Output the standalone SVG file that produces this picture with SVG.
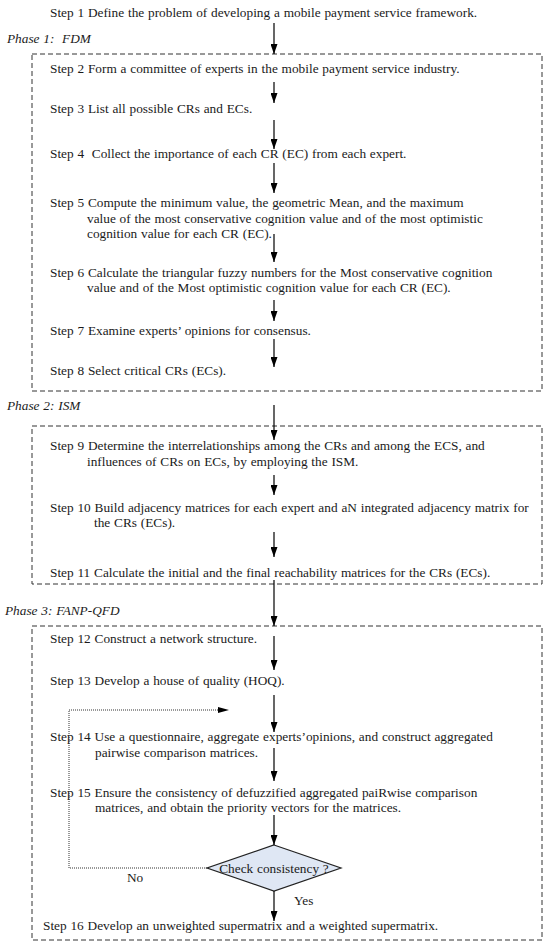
<svg xmlns="http://www.w3.org/2000/svg" width="550" height="946" viewBox="0 0 550 946">
<style>
text{font-family:"Liberation Serif","Times New Roman",serif;font-size:13.3px;fill:#1a1a1a;word-spacing:0.5px}
.ph{font-style:italic}
.box{fill:none;stroke:#333;stroke-width:1;stroke-dasharray:5,3}
.ln{stroke:#000;stroke-width:1.2;fill:none}
.dot{stroke:#333;stroke-width:1;fill:none;stroke-dasharray:1,1}
.dia{fill:#dfe7f4;stroke:#222;stroke-width:1.2}
</style>
<defs>
<marker id="ah" viewBox="0 0 10 7" refX="10" refY="3.5" markerWidth="10" markerHeight="7" markerUnits="userSpaceOnUse" orient="auto"><path d="M0,0 L10,3.5 L0,7 z" fill="#000"/></marker>
</defs>
<rect width="550" height="946" fill="#fff"/>
<g id="phases">
<text class="ph" x="7" y="43" xml:space="preserve">Phase 1:  FDM</text>
<text class="ph" x="7" y="410">Phase 2: ISM</text>
<text class="ph" x="5" y="615">Phase 3: FANP-QFD</text>
</g>
<g id="frames">
<rect id="phase1" class="box" x="32" y="54" width="510" height="337"/>
<rect id="phase2" class="box" x="32" y="426" width="510" height="158"/>
<rect id="phase3" class="box" x="32" y="626" width="510" height="314"/>
</g>
<g id="step1"><text x="50" y="17">Step 1 Define the problem of developing a mobile payment service framework.</text></g>
<g id="step2"><text x="50" y="73">Step 2 Form a committee of experts in the mobile payment service industry.</text></g>
<g id="step3"><text x="50" y="113">Step 3 List all possible CRs and ECs.</text></g>
<g id="step4"><text x="50" y="158" xml:space="preserve">Step 4  Collect the importance of each CR (EC) from each expert.</text></g>
<g id="step5"><text x="50" y="207">Step 5 Compute the minimum value, the geometric Mean, and the maximum</text><text x="87" y="223">value of the most conservative cognition value and of the most optimistic</text><text x="87" y="238">cognition value for each CR (EC).</text></g>
<g id="step6"><text x="50" y="277">Step 6 Calculate the triangular fuzzy numbers for the Most conservative cognition</text><text x="87" y="292">value and of the Most optimistic cognition value for each CR (EC).</text></g>
<g id="step7"><text x="50" y="335">Step 7 Examine experts’ opinions for consensus.</text></g>
<g id="step8"><text x="50" y="375">Step 8 Select critical CRs (ECs).</text></g>
<g id="step9"><text x="50" y="450">Step 9 Determine the interrelationships among the CRs and among the ECS, and</text><text x="87" y="466">influences of CRs on ECs, by employing the ISM.</text></g>
<g id="step10"><text x="50" y="512">Step 10 Build adjacency matrices for each expert and aN integrated adjacency matrix for</text><text x="94" y="527">the CRs (ECs).</text></g>
<g id="step11"><text x="50" y="577">Step 11 Calculate the initial and the final reachability matrices for the CRs (ECs).</text></g>
<g id="step12"><text x="50" y="643">Step 12 Construct a network structure.</text></g>
<g id="step13"><text x="50" y="685">Step 13 Develop a house of quality (HOQ).</text></g>
<g id="step14"><text x="50" y="741">Step 14 Use a questionnaire, aggregate experts’opinions, and construct aggregated</text><text x="95" y="757">pairwise comparison matrices.</text></g>
<g id="step15"><text x="50" y="797">Step 15 Ensure the consistency of defuzzified aggregated paiRwise comparison</text><text x="95" y="812">matrices, and obtain the priority vectors for the matrices.</text></g>
<g id="check"><polygon class="dia" points="274,845 341,868 274,891 207,868"/><text x="274" y="873" text-anchor="middle">Check consistency ?</text></g>
<g id="step16"><text x="43" y="930">Step 16 Develop an unweighted supermatrix and a weighted supermatrix.</text></g>
<g id="connectors">
<line class="ln" x1="274" y1="23" x2="274" y2="54" marker-end="url(#ah)"/>
<line class="ln" x1="274" y1="82" x2="274" y2="103" marker-end="url(#ah)"/>
<line class="ln" x1="274" y1="120" x2="274" y2="149" marker-end="url(#ah)"/>
<line class="ln" x1="274" y1="163" x2="274" y2="193" marker-end="url(#ah)"/>
<line class="ln" x1="274" y1="234" x2="274" y2="262" marker-end="url(#ah)"/>
<line class="ln" x1="274" y1="300" x2="274" y2="321" marker-end="url(#ah)"/>
<line class="ln" x1="274" y1="339" x2="274" y2="367" marker-end="url(#ah)"/>
<line class="ln" x1="274" y1="405" x2="274" y2="440" marker-end="url(#ah)"/>
<line class="ln" x1="274" y1="475" x2="274" y2="495" marker-end="url(#ah)"/>
<line class="ln" x1="274" y1="532" x2="274" y2="557" marker-end="url(#ah)"/>
<line class="ln" x1="274" y1="580" x2="274" y2="626" marker-end="url(#ah)"/>
<line class="ln" x1="274" y1="636" x2="274" y2="670" marker-end="url(#ah)"/>
<line class="ln" x1="274" y1="695" x2="274" y2="732" marker-end="url(#ah)"/>
<line class="ln" x1="274" y1="748" x2="274" y2="781" marker-end="url(#ah)"/>
<line class="ln" x1="274" y1="815" x2="274" y2="845" marker-end="url(#ah)"/>
<line class="ln" x1="274" y1="891" x2="274" y2="921" marker-end="url(#ah)"/>
<polyline class="dot" points="207,868 69,868 69,710 220,710"/>
<path d="M218,707 L229,710 L218,713 z" fill="#000"/>
<text x="127" y="882">No</text>
<text x="294" y="905">Yes</text>
</g>
</svg>
